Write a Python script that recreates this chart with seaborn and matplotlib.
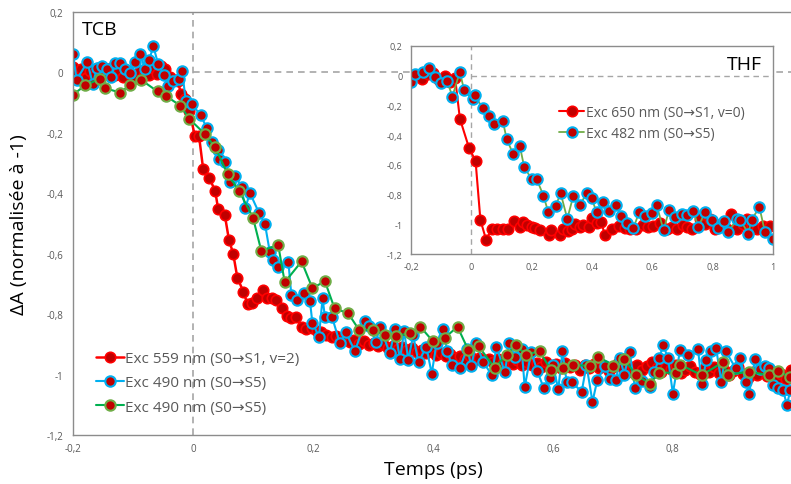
import numpy as np
import pandas as pd
import seaborn as sns
import matplotlib.pyplot as plt
from matplotlib.ticker import FuncFormatter

# --- Data ---
# TCB, Exc 559 nm (S0->S1, v=2)
tcb_559_t = [-0.200, -0.193, -0.186, -0.179, -0.172, -0.165, -0.158, -0.151, -0.144, -0.137,
             -0.130, -0.123, -0.116, -0.109, -0.102, -0.095, -0.088, -0.081, -0.074, -0.067,
             -0.060, -0.053, -0.046, -0.039, -0.032, -0.025, -0.020, -0.014, -0.006, 0.003,
             0.010, 0.017, 0.027, 0.037, 0.042, 0.053, 0.060, 0.067, 0.074, 0.084,
             0.091, 0.098, 0.106, 0.116, 0.123, 0.131, 0.139, 0.148, 0.156, 0.163,
             0.171, 0.181, 0.189, 0.198, 0.206, 0.214, 0.222, 0.231, 0.239, 0.245,
             0.253, 0.261, 0.269, 0.277, 0.285, 0.293, 0.301, 0.309, 0.317, 0.325,
             0.333, 0.341, 0.349, 0.357, 0.365, 0.373, 0.381, 0.389, 0.397, 0.405,
             0.413, 0.421, 0.429, 0.437, 0.445, 0.453, 0.461, 0.469, 0.477, 0.485,
             0.493, 0.501, 0.509, 0.517, 0.525, 0.533, 0.541, 0.549, 0.557, 0.565,
             0.573, 0.581, 0.589, 0.597, 0.605, 0.613, 0.621, 0.629, 0.637, 0.645,
             0.653, 0.661, 0.669, 0.677, 0.685, 0.693, 0.701, 0.709, 0.717, 0.725,
             0.733, 0.741, 0.749, 0.757, 0.765, 0.773, 0.781, 0.789, 0.797, 0.805,
             0.813, 0.821, 0.829, 0.837, 0.845, 0.853, 0.861, 0.869, 0.877, 0.885,
             0.893, 0.901, 0.909, 0.917, 0.925, 0.933, 0.941, 0.949, 0.957, 0.965,
             0.973, 0.981, 0.989, 0.997]
tcb_559_a = [0.018, -0.005, 0.010, -0.020, 0.005, -0.012, 0.012, -0.008, -0.003, 0.015,
             -0.010, 0.008, -0.015, 0.002, -0.018, -0.020, 0.005, -0.010, -0.009, 0.012,
             -0.005, 0.019, 0.010, -0.015, -0.025, -0.031, -0.072, -0.088, -0.128, -0.210,
             -0.210, -0.321, -0.349, -0.393, -0.453, -0.472, -0.555, -0.600, -0.680, -0.726,
             -0.768, -0.765, -0.748, -0.720, -0.748, -0.748, -0.754, -0.780, -0.806, -0.812,
             -0.810, -0.842, -0.848, -0.845, -0.855, -0.860, -0.868, -0.875, -0.872, -0.886,
             -0.880, -0.892, -0.885, -0.898, -0.890, -0.902, -0.895, -0.905, -0.900, -0.912,
             -0.905, -0.915, -0.908, -0.920, -0.912, -0.925, -0.918, -0.930, -0.922, -0.935,
             -0.928, -0.938, -0.932, -0.945, -0.938, -0.948, -0.940, -0.952, -0.945, -0.955,
             -0.948, -0.958, -0.950, -0.962, -0.955, -0.965, -0.952, -0.968, -0.958, -0.970,
             -0.962, -0.975, -0.960, -0.972, -0.965, -0.978, -0.962, -0.975, -0.968, -0.985,
             -0.970, -0.980, -0.965, -0.978, -0.972, -0.988, -0.975, -0.962, -0.980, -0.990,
             -0.975, -0.968, -0.985, -0.972, -0.958, -0.978, -0.990, -0.975, -0.982, -0.968,
             -0.995, -0.985, -0.972, -0.990, -0.998, -0.980, -0.992, -0.975, -0.995, -0.985,
             -1.002, -0.988, -0.975, -0.998, -1.010, -0.990, -1.000, -0.982, -1.005, -0.995,
             -1.012, -0.998, -1.015, -0.985]

# TCB, Exc 490 nm (S0->S5), first run (blue)
tcb_490a_t = [-0.200, -0.194, -0.176, -0.167, -0.160, -0.152, -0.144, -0.136, -0.130, -0.122,
              -0.114, -0.105, -0.097, -0.088, -0.080, -0.073, -0.066, -0.058, -0.048, -0.042,
              -0.034, -0.024, -0.018, -0.012, -0.002, 0.013, 0.023, 0.031, 0.042, 0.044,
              0.054, 0.062, 0.070, 0.081, 0.087, 0.095, 0.110, 0.120, 0.128, 0.134,
              0.142, 0.159, 0.164, 0.173, 0.185, 0.195, 0.199, 0.210, 0.216, 0.220,
              0.232, 0.245, 0.255, 0.270, 0.287, 0.294, 0.305, 0.312, 0.328, 0.337,
              0.345, 0.352, 0.359, 0.367, 0.376, 0.389, 0.398, 0.406, 0.416, 0.424,
              0.431, 0.445, 0.457, 0.464, 0.472, 0.484, 0.498, 0.506, 0.520, 0.527,
              0.537, 0.548, 0.553, 0.564, 0.574, 0.585, 0.595, 0.600, 0.609, 0.616,
              0.623, 0.632, 0.648, 0.656, 0.666, 0.674, 0.687, 0.695, 0.705, 0.712,
              0.719, 0.728, 0.737, 0.748, 0.762, 0.769, 0.777, 0.784, 0.792, 0.800,
              0.812, 0.826, 0.842, 0.848, 0.856, 0.864, 0.872, 0.881, 0.888, 0.905,
              0.912, 0.922, 0.927, 0.937, 0.945, 0.953, 0.961, 0.967, 0.976, 0.984,
              0.990, 0.996]
tcb_490a_a = [0.060, -0.025, 0.033, -0.040, 0.015, 0.019, 0.010, -0.017, 0.030, 0.030,
              0.010, -0.003, 0.035, 0.060, 0.010, 0.041, 0.085, 0.026, -0.011, -0.047,
              -0.031, -0.023, 0.004, -0.097, -0.106, -0.143, -0.185, -0.230, -0.257, -0.287,
              -0.296, -0.362, -0.342, -0.379, -0.450, -0.400, -0.465, -0.502, -0.594, -0.621,
              -0.643, -0.627, -0.737, -0.754, -0.732, -0.757, -0.828, -0.875, -0.748, -0.809,
              -0.811, -0.897, -0.861, -0.923, -0.823, -0.839, -0.892, -0.842, -0.930, -0.850,
              -0.949, -0.857, -0.952, -0.870, -0.960, -0.908, -0.997, -0.897, -0.848, -0.923,
              -0.967, -0.978, -0.914, -0.971, -0.897, -0.958, -1.002, -0.908, -0.993, -0.897,
              -0.941, -0.914, -1.041, -0.925, -0.989, -1.046, -1.011, -0.967, -1.049, -0.923,
              -1.026, -1.026, -1.057, -0.969, -1.090, -1.019, -0.971, -1.015, -1.019, -0.947,
              -1.000, -0.925, -1.046, -1.022, -1.041, -0.991, -0.947, -0.903, -0.947, -1.063,
              -0.919, -0.936, -0.916, -1.030, -0.952, -0.923, -0.912, -1.026, -0.923, -0.980,
              -0.945, -1.026, -1.063, -0.949, -0.982, -0.971, -0.978, -1.035, -1.044, -1.052,
              -1.101, -1.052]

# TCB, Exc 490 nm (S0->S5), second run (green)
tcb_490b_t = [-0.200, -0.180, -0.155, -0.147, -0.121, -0.105, -0.087, -0.059, -0.045, -0.021,
              -0.006, 0.020, 0.037, 0.058, 0.077, 0.100, 0.114, 0.142, 0.153, 0.181,
              0.199, 0.220, 0.236, 0.259, 0.277, 0.300, 0.320, 0.339, 0.362, 0.379,
              0.400, 0.420, 0.441, 0.459, 0.476, 0.503, 0.523, 0.538, 0.555, 0.578,
              0.597, 0.617, 0.634, 0.662, 0.676, 0.701, 0.719, 0.739, 0.762, 0.777,
              0.806, 0.812, 0.848, 0.883, 0.892, 0.927, 0.961, 0.976, 0.995]
tcb_490b_a = [-0.075, -0.044, -0.022, -0.053, -0.068, -0.042, -0.025, -0.064, -0.079, -0.111,
              -0.155, -0.205, -0.249, -0.338, -0.393, -0.481, -0.592, -0.571, -0.695, -0.626,
              -0.714, -0.692, -0.781, -0.798, -0.853, -0.852, -0.870, -0.872, -0.863, -0.842,
              -0.890, -0.878, -0.842, -0.919, -0.906, -0.978, -0.934, -0.903, -0.934, -0.923,
              -0.986, -0.978, -0.969, -0.971, -0.941, -0.971, -0.950, -1.002, -1.030, -0.994,
              -0.994, -0.967, -1.002, -0.960, -1.000, -0.991, -1.002, -0.989, -1.008]

# THF, Exc 650 nm (S0->S1, v=0)
thf_650_t = [-0.200, -0.181, -0.163, -0.145, -0.126, -0.108, -0.087, -0.070, -0.054, -0.038,
             -0.008, 0.014, 0.030, 0.049, 0.067, 0.084, 0.104, 0.120, 0.143, 0.160,
             0.172, 0.183, 0.200, 0.211, 0.228, 0.259, 0.265, 0.294, 0.303, 0.320,
             0.333, 0.344, 0.360, 0.371, 0.391, 0.401, 0.415, 0.429, 0.443, 0.465,
             0.490, 0.508, 0.526, 0.545, 0.570, 0.585, 0.603, 0.625, 0.648, 0.665,
             0.681, 0.703, 0.715, 0.730, 0.758, 0.775, 0.790, 0.808, 0.828, 0.846,
             0.860, 0.880, 0.900, 0.913, 0.930, 0.946, 0.968, 0.990]
thf_650_a = [-0.010, -0.002, -0.020, 0.010, 0.016, -0.030, -0.002, -0.040, -0.013, -0.289,
             -0.484, -0.574, -0.970, -1.105, -1.033, -1.030, -1.030, -1.035, -0.977, -1.020,
             -0.984, -1.006, -1.015, -1.022, -1.040, -1.069, -1.040, -1.069, -1.033, -1.045,
             -1.029, -1.000, -1.020, -1.006, -1.017, -0.955, -0.990, -0.984, -1.069, -1.033,
             -1.010, -1.025, -1.033, -1.030, -1.006, -1.020, -1.010, -0.990, -1.029, -1.015,
             -1.033, -1.006, -1.020, -1.033, -0.966, -1.000, -0.966, -1.033, -1.000, -1.029,
             -0.932, -1.033, -1.000, -0.966, -1.010, -1.033, -1.010, -1.010]

# THF, Exc 482 nm (S0->S5)
thf_482_t = [-0.200, -0.187, -0.159, -0.140, -0.120, -0.102, -0.080, -0.063, -0.038, -0.024,
             0.004, 0.012, 0.037, 0.060, 0.075, 0.104, 0.117, 0.139, 0.161, 0.175,
             0.200, 0.217, 0.239, 0.255, 0.280, 0.296, 0.318, 0.338, 0.360, 0.382,
             0.399, 0.415, 0.438, 0.457, 0.480, 0.496, 0.517, 0.537, 0.557, 0.576,
             0.598, 0.614, 0.637, 0.656, 0.675, 0.697, 0.714, 0.736, 0.752, 0.775,
             0.797, 0.819, 0.838, 0.852, 0.880, 0.891, 0.918, 0.929, 0.955, 0.973,
             0.999]
thf_482_a = [-0.040, 0.010, 0.025, 0.052, -0.012, -0.048, -0.035, -0.140, 0.025, -0.097,
             -0.158, -0.130, -0.220, -0.270, -0.323, -0.302, -0.425, -0.530, -0.476, -0.613,
             -0.697, -0.697, -0.808, -0.918, -0.874, -0.791, -0.963, -0.808, -0.870, -0.791,
             -0.826, -0.918, -0.852, -0.908, -0.870, -0.945, -0.990, -1.025, -0.915, -0.945,
             -0.924, -0.868, -1.040, -0.901, -0.952, -0.930, -0.937, -0.908, -1.019, -0.915,
             -0.974, -1.025, -0.981, -1.051, -0.963, -0.968, -1.063, -0.968, -0.886, -1.051,
             -1.100]

# --- Styling ---
FONT = ['Open Sans', 'DejaVu Sans']
TICK_COLOR = '#595959'
FRAME_COLOR = '#8C8C8C'
DASH_COLOR = '#A6A6A6'

RED = '#FF0000'
DARK_RED = '#C00000'
BLUE = '#00B0F0'
GREEN = '#00B050'
OLIVE = '#70AD47'


def comma_fmt(v, pos):
    if abs(v) < 1e-9:
        return '0'
    return f'{v:g}'.replace('.', ',')


def draw_series(ax, t, a, line, edge, label, ms=7.5, mew=1.5, lw=1.5, z=2):
    df = pd.DataFrame({'t': t, 'a': a})
    sns.lineplot(data=df, x='t', y='a', ax=ax, sort=False, estimator=None,
                 color=line, linewidth=lw, marker='o', markersize=ms,
                 markerfacecolor=DARK_RED, markeredgecolor=edge,
                 markeredgewidth=mew, label=label, zorder=z)


sns.set_style('white')
plt.rcParams['font.family'] = FONT

fig = plt.figure(figsize=(7.91, 4.85), dpi=100)
ax = fig.add_axes([0.0923, 0.101, 0.910, 0.873])

# --- Main chart (TCB) ---
ax.axvline(0, color=DASH_COLOR, linestyle=(0, (4, 3)), linewidth=1.2, zorder=1)
ax.plot([0, 1], [0, 0], color=DASH_COLOR, linestyle=(0, (4, 3)), linewidth=1.2, zorder=1)

draw_series(ax, tcb_559_t, tcb_559_a, RED, RED, 'Exc 559 nm (S0\u2192S1, v=2)', mew=1.2, lw=1.8)
draw_series(ax, tcb_490a_t, tcb_490a_a, BLUE, BLUE, 'Exc 490 nm (S0\u2192S5)')
draw_series(ax, tcb_490b_t, tcb_490b_a, GREEN, OLIVE, 'Exc 490 nm (S0\u2192S5)')

ax.set_xlim(-0.2, 1.0)
ax.set_ylim(-1.2, 0.2)
ax.set_xticks([-0.2, 0, 0.2, 0.4, 0.6, 0.8])
ax.set_yticks([-1.2, -1.0, -0.8, -0.6, -0.4, -0.2, 0, 0.2])
ax.xaxis.set_major_formatter(FuncFormatter(comma_fmt))
ax.yaxis.set_major_formatter(FuncFormatter(comma_fmt))
ax.tick_params(axis='both', length=0, labelsize=7, labelcolor=TICK_COLOR)
ax.tick_params(axis='y', pad=7)
ax.tick_params(axis='x', pad=6)
for s in ax.spines.values():
    s.set_color(FRAME_COLOR)
    s.set_linewidth(1.0)

ax.set_xlabel('Temps (ps)', fontsize=14, color='black', labelpad=4)
ax.set_ylabel('\u0394A (normalisée à -1)', fontsize=14, color='black', labelpad=13)
ax.text(0.013, 0.958, 'TCB', transform=ax.transAxes, fontsize=14,
        ha='left', va='center', color='black')

ax.legend(loc='upper left', bbox_to_anchor=(0.032, 0.198), frameon=False,
          fontsize=11, labelcolor=TICK_COLOR, handlelength=1.8, handletextpad=0.1,
          labelspacing=0.6, borderpad=0, borderaxespad=0)

# --- Inset (THF) ---
ins = fig.add_axes([0.5196, 0.4742, 0.4577, 0.4289])
ins.set_facecolor('white')
ins.axvline(0, color=DASH_COLOR, linestyle=(0, (4, 3)), linewidth=1.0, zorder=1)
ins.plot([0, 1], [0, 0], color=DASH_COLOR, linestyle=(0, (4, 3)), linewidth=1.0, zorder=1)

draw_series(ins, thf_650_t, thf_650_a, RED, RED, 'Exc 650 nm (S0\u2192S1, v=0)',
            ms=7.5, mew=1.2, lw=1.5)
draw_series(ins, thf_482_t, thf_482_a, OLIVE, BLUE, 'Exc 482 nm (S0\u2192S5)',
            ms=7.5, mew=1.5, lw=1.3)

ins.set_xlim(-0.2, 1.0)
ins.set_ylim(-1.2, 0.2)
ins.set_xticks([-0.2, 0, 0.2, 0.4, 0.6, 0.8, 1.0])
ins.set_yticks([-1.2, -1.0, -0.8, -0.6, -0.4, -0.2, 0, 0.2])
ins.xaxis.set_major_formatter(FuncFormatter(comma_fmt))
ins.yaxis.set_major_formatter(FuncFormatter(comma_fmt))
ins.tick_params(axis='both', length=0, labelsize=6.5, labelcolor=TICK_COLOR, pad=6)
ins.set_xlabel('')
ins.set_ylabel('')
for s in ins.spines.values():
    s.set_color(FRAME_COLOR)
    s.set_linewidth(1.0)

ins.text(0.97, 0.913, 'THF', transform=ins.transAxes, fontsize=14,
         ha='right', va='center', color='black')
ins.legend(loc='upper left', bbox_to_anchor=(0.41, 0.715), frameon=False,
           fontsize=10, labelcolor=TICK_COLOR, handlelength=1.8, handletextpad=0.1,
           labelspacing=0.38, borderpad=0, borderaxespad=0)

fig.savefig('out.png', dpi=100)
plt.close(fig)
